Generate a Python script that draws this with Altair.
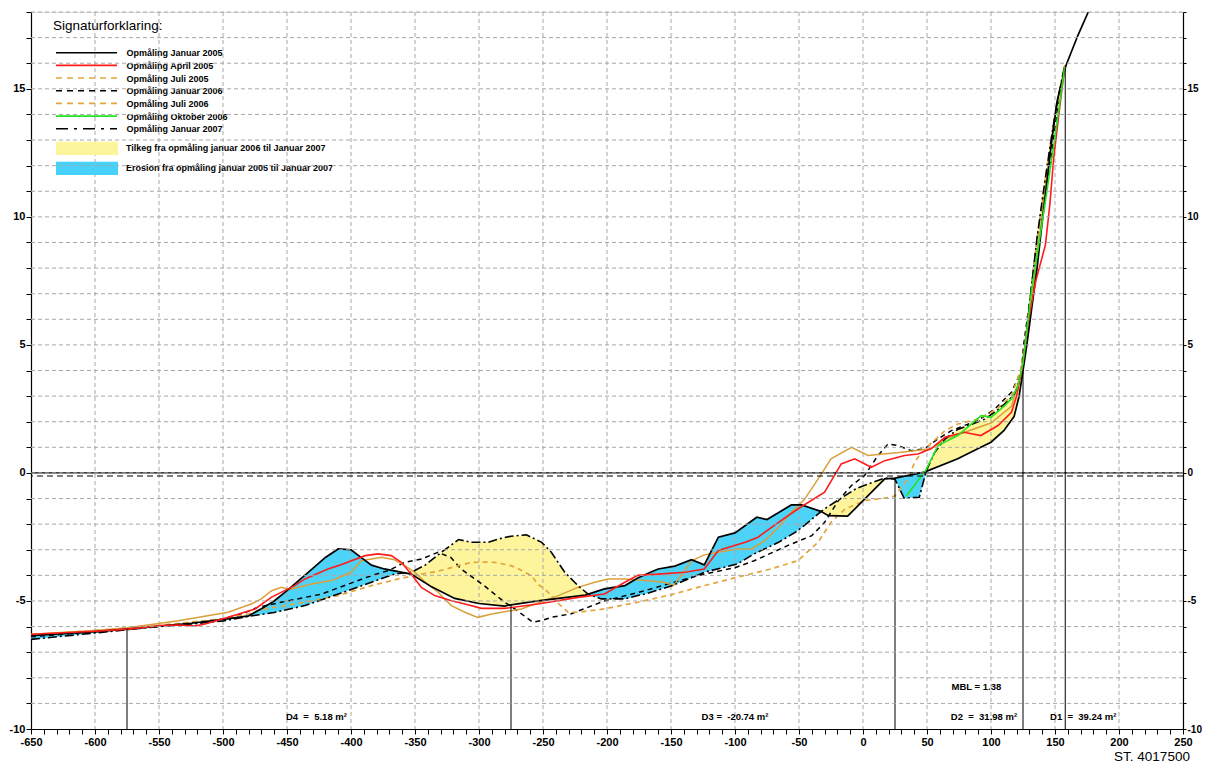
import numpy as np
import pandas as pd
import altair as alt

FONT = "Liberation Sans"

# ---------------- data ----------------
jan05_x = [-650, -600, -575, -550, -525, -500, -480, -470, -460, -450, -435, -420, -410, -400, -394, -384, -374, -353,
           -337, -319, -300, -280, -275, -254, -217, -202, -186, -176, -166, -160, -147, -134, -124, -113, -100, -83,
           -75, -56, -48, -33, -27, -12, 17, 25, 48, 74, 92, 100, 110, 118, 122, 125, 128, 132, 136, 140, 144, 148,
           152, 158.5, 168, 176]
jan05_y = [-6.35, -6.2, -6.1, -5.98, -5.87, -5.72, -5.58, -5.3, -5.0, -4.6, -3.95, -3.3, -2.97, -3.0, -3.23, -3.6,
           -3.75, -3.95, -4.45, -4.9, -5.1, -5.2, -5.15, -5.0, -4.77, -4.53, -4.4, -4.1, -3.88, -3.75, -3.64, -3.39,
           -3.59, -2.51, -2.34, -1.73, -1.82, -1.25, -1.25, -1.5, -1.67, -1.69, -0.23, -0.2, 0.03, 0.55, 1.0, 1.2,
           1.65, 2.2, 3.0, 4.0, 5.0, 6.5, 8.0, 9.8, 11.5, 13.2, 14.6, 15.9, 17.1, 18.0]

apr05_x = [-650, -600, -574, -548, -535, -522, -514, -496, -475, -462, -444, -436, -418, -410, -389, -379, -368.5,
           -360.7, -353, -345, -334.6, -321.6, -311, -298, -280, -254, -222.7, -202, -186, -176, -160, -139, -124,
           -113, -92, -82, -66, -51, -30, -17, -6.5, 6.5, 17, 32.5, 43, 53, 64, 79, 92, 105.5, 116, 120, 124, 129,
           135, 142.5, 146, 149, 153, 157.6]
apr05_y = [-6.3, -6.18, -6.1, -5.96, -5.94, -5.98, -5.9, -5.64, -5.31, -4.85, -4.4, -4.14, -3.75, -3.62, -3.23,
           -3.16, -3.23, -3.49, -3.95, -4.47, -4.79, -4.99, -5.12, -5.29, -5.29, -5.12, -4.86, -4.73, -4.27, -4.0,
           -3.95, -3.88, -3.75, -3.03, -2.71, -2.51, -1.93, -1.41, -0.75, 0.35, 0.55, 0.22, 0.48, 0.68, 0.74, 0.94,
           1.39, 1.59, 1.46, 1.85, 2.37, 3.0, 4.0, 5.9, 7.5, 8.9, 10.5, 12.3, 14.0, 15.85]

jul05_x = [-650, -600, -575, -553, -535, -496, -478, -470, -462, -454.5, -448, -431, -415, -400, -392, -376, -366,
           -358, -350, -342, -332, -321.6, -311, -301, -290, -267, -238, -222.7, -209.6, -199, -186, -170.5, -155,
           -148, -134, -124, -113, -98, -87, -77, -66, -56, -46, -35, -25, -9, 4, 30, 53, 66, 80, 100, 116, 124,
           128, 132, 136, 141, 146, 151, 157.6]
jul05_y = [-6.3, -6.15, -6.05, -5.9, -5.77, -5.44, -5.12, -4.92, -4.6, -4.47, -4.55, -4.34, -4.2, -3.88, -3.43,
           -3.29, -3.39, -3.62, -3.88, -4.27, -4.66, -5.18, -5.44, -5.64, -5.51, -5.31, -4.79, -4.47, -4.27, -4.14,
           -4.14, -4.2, -4.27, -4.4, -3.43, -3.2, -3.1, -2.97, -2.97, -2.65, -2.12, -1.54, -1.05, -0.23, 0.55, 1.0,
           0.68, 0.81, 0.94, 1.35, 1.6, 1.95, 2.6, 4.0, 5.3, 6.8, 8.5, 10.5, 12.5, 14.2, 15.9]

jan06_x = [-650, -600, -575, -550, -500, -485, -473, -449, -423, -402, -384, -370, -358, -345, -332, -322, -314,
           -296, -280, -272, -258, -250, -243.5, -228, -215, -202, -186, -170.5, -150, -124, -100, -85, -59, -40,
           -30, -19.5, -9, 1.3, 11.7, 19.5, 27.3, 37.7, 48, 58.6, 69, 79, 90, 103, 116, 123.7, 125.5, 131.5, 136.7,
           142, 147, 152, 157.6]
jan06_y = [-6.4, -6.2, -6.1, -5.98, -5.7, -5.5, -5.25, -4.99, -4.73, -4.34, -4.01, -3.8, -3.49, -3.36, -3.1, -3.3,
           -3.75, -4.4, -5.05, -5.31, -5.83, -5.75, -5.64, -5.5, -5.25, -5.0, -4.8, -4.6, -4.3, -3.95, -3.7, -3.43,
           -2.84, -2.45, -1.93, -1.1, -0.49, -0.1, 0.68, 1.13, 1.07, 0.87, 0.94, 1.33, 1.65, 1.85, 2.05, 2.5, 3.15,
           4.0, 5.0, 7.2, 9.4, 10.9, 12.3, 14.3, 15.9]

jul06_x = [-650, -600, -575, -550, -500, -480, -467, -436, -410, -384, -363, -345, -332, -316, -306, -296, -288,
           -275, -269, -259, -254, -248.7, -243.5, -238, -230.5, -222.7, -202, -176, -150, -124, -98, -72, -51, -35,
           -25, -14, 1.3, 22, 25, 35, 40.4, 43, 52, 64, 74, 90, 105, 116, 123, 127, 131, 136, 141, 146, 151, 157.6]
jul06_y = [-6.35, -6.15, -6.08, -5.95, -5.7, -5.5, -5.31, -5.05, -4.79, -4.4, -4.14, -3.95, -3.84, -3.62, -3.5,
           -3.48, -3.49, -3.62, -3.75, -4.01, -4.35, -4.53, -4.79, -5.1, -5.44, -5.44, -5.31, -5.05, -4.76, -4.4,
           -4.07, -3.75, -3.43, -2.7, -1.93, -1.41, -1.08, -0.95, -0.89, -0.23, 0.42, 0.61, 1.1, 1.65, 1.91, 2.1,
           2.5, 3.0, 4.0, 5.2, 7.0, 9.0, 11.0, 12.7, 14.3, 15.9]

okt06_x = [34, 49, 58.6, 74, 92.4, 100, 110.7, 116, 121, 125, 131.5, 142, 149.8, 157.6]
okt06_y = [-0.89, 0.1, 1.07, 1.46, 2.24, 2.17, 2.63, 2.9, 3.4, 4.3, 7.06, 10.44, 13.05, 15.85]

jan07_x = [-650, -600, -575, -550, -525, -500, -480, -460, -436, -410, -384, -366, -353, -342, -332, -316, -306,
           -293, -285, -275, -263, -251, -243.5, -233, -222.7, -214.8, -204.5, -186, -176, -170.5, -150, -124, -98,
           -85, -66, -53, -46, -35, -30, -5, 17, 25, 32, 44, 49.5, 56, 64, 74, 85, 95, 105, 113, 118, 121, 124, 127,
           131, 136, 141, 146, 151, 157.6]
jan07_y = [-6.5, -6.25, -6.12, -6.0, -5.9, -5.78, -5.6, -5.45, -5.18, -4.73, -4.27, -3.95, -3.88, -3.6, -3.2, -2.6,
           -2.71, -2.71, -2.58, -2.47, -2.42, -2.71, -3.1, -3.88, -4.4, -4.73, -4.92, -4.92, -4.79, -4.73, -4.42,
           -3.88, -3.55, -3.16, -2.71, -2.32, -2.06, -1.6, -1.4, -0.6, -0.2, -0.25, -0.98, -0.95, 0.09, 0.8, 1.33,
           1.7, 1.9, 2.1, 2.45, 2.8, 3.05, 3.4, 4.0, 5.2, 7.0, 9.2, 11.0, 12.7, 14.3, 15.9]

# section boundaries and their labels
d_x = [-575, -275, 25, 125, 158]
label_x = [-427, -100, 94.5, 172, 88.6]
label_y = [-9.53, -9.53, -9.53, -9.53, -8.36]
label_text = ["D4\u00a0 =\u00a0 5.18 m\u00b2", "D3 =\u00a0 -20.74 m\u00b2", "D2\u00a0 =\u00a0 31.98 m\u00b2",
              "D1\u00a0 =\u00a0 39.24 m\u00b2", "MBL = 1.38"]
ref_dash_levels = [4]        # dark dashed level
ref_solid_levels = [0]       # solid level
ref_dash2_levels = [-0.12]   # black dashed level

legend_names = ["Opmåling Januar 2005", "Opmåling April 2005", "Opmåling Juli 2005", "Opmåling Januar 2006",
                "Opmåling Juli 2006", "Opmåling Oktober 2006", "Opmåling Januar 2007"]
fill_names = ["Tilkeg fra opmåling januar 2006 til Januar 2007", "Erosion fra opmåling januar 2005 til Januar 2007"]
station = "ST. 4017500"

# ---------------- styles ----------------
BLACK = "#000000"
RED = "#ff1c1c"
ORANGE = "#d9a03a"
ORANGE_D = "#e3a53c"
GREEN = "#1fe61f"
YELLOW = "#fdf49c"
BLUE = "#4cd3f7"
GRID = "#a8a8a8"

styles = [  # color, width, dash
    (BLACK, 1.7, None),
    (RED, 1.6, None),
    (ORANGE, 1.5, None),
    (BLACK, 1.5, [5, 4]),
    (ORANGE_D, 1.7, [5, 4]),
    (GREEN, 1.6, None),
    (BLACK, 1.6, [9, 3, 2, 3]),
]
legend_styles = [
    (BLACK, 1.6, None),
    (RED, 1.8, None),
    (ORANGE_D, 1.6, [6, 5]),
    (BLACK, 1.6, [6, 5]),
    (ORANGE_D, 1.6, [6, 5]),
    (GREEN, 1.8, None),
    (BLACK, 1.6, [12, 6, 3, 6]),
]

W, H = 1152, 717
PAD = {"left": 23, "top": 4, "right": 19, "bottom": 35}
xs = alt.Scale(domain=[-650, 250], nice=False, zero=False)
ys = alt.Scale(domain=[-10, 18], nice=False, zero=False)

x_axis = alt.Axis(values=list(range(-650, 251, 10)),
                  labelExpr="datum.value % 50 == 0 ? '' + datum.value : ''",
                  tickSize=5, tickColor=BLACK, domainColor=BLACK, domainWidth=1.2, tickWidth=1,
                  labelFont=FONT, labelFontSize=11, labelFontWeight="bold", labelColor=BLACK,
                  labelPadding=2, labelOverlap=False, labelFlush=False, grid=False, title=None)


def y_axis(orient):
    right = orient == "right"
    return alt.Axis(values=list(range(-10, 19)), orient=orient,
                    labelExpr="datum.value % 5 == 0 ? '' + datum.value : ''",
                    tickSize=3 if right else 5, tickColor=BLACK, domainColor=BLACK,
                    domainWidth=1.2, tickWidth=1,
                    labelFont=FONT, labelFontSize=10 if right else 11, labelFontWeight="bold",
                    labelColor=BLACK, labelPadding=1, labelOverlap=False, labelFlush=False,
                    grid=False, title=None)


def X(f):
    return alt.X(f, type="quantitative", scale=xs, axis=x_axis)


def YL(f):
    return alt.Y(f, type="quantitative", scale=ys, axis=y_axis("left"))


# ---------------- fills between Jan 2005 and Jan 2007 ----------------
a_x = np.array(jan05_x, float); a_y = np.array(jan05_y, float)
b_x = np.array(jan07_x, float); b_y = np.array(jan07_y, float)
lo = max(a_x.min(), b_x.min()); hi = min(a_x.max(), b_x.max())
g = np.union1d(a_x, b_x); g = g[(g >= lo) & (g <= hi)]
A = np.interp(g, a_x, a_y); B = np.interp(g, b_x, b_y)
FX, FA, FB = [g[0]], [A[0]], [B[0]]
for i in range(1, len(g)):
    d0 = A[i - 1] - B[i - 1]; d1 = A[i] - B[i]
    if d0 * d1 < 0:
        t = d0 / (d0 - d1)
        xc = g[i - 1] + t * (g[i] - g[i - 1]); yc = A[i - 1] + t * (A[i] - A[i - 1])
        FX.append(xc); FA.append(yc); FB.append(yc)
    FX.append(g[i]); FA.append(A[i]); FB.append(B[i])
fill_df = pd.DataFrame({"x": FX, "a": FA, "b": FB})
fill_df["hi"] = np.maximum(fill_df["a"], fill_df["b"])
fill_df["lo"] = np.minimum(fill_df["a"], fill_df["b"])

yellow = alt.Chart(fill_df).mark_area(color=YELLOW, opacity=1, orient="vertical", clip=True).encode(
    x=X("x"), y=YL("a"), y2=alt.Y2("hi"))
blue = alt.Chart(fill_df).mark_area(color=BLUE, opacity=1, orient="vertical", clip=True).encode(
    x=X("x"), y=YL("lo"), y2=alt.Y2("a"))

# ---------------- grid ----------------
vgrid = alt.Chart(pd.DataFrame({"x": list(range(-600, 250, 50))})).mark_rule(
    color=GRID, strokeWidth=1, strokeDash=[4, 3]).encode(x=X("x"))
hgrid_df = pd.DataFrame({"y": list(range(-9, 19))})
hgrid = alt.Chart(hgrid_df).mark_rule(color=GRID, strokeWidth=1, strokeDash=[4, 3]).encode(
    y=alt.Y("y:Q", scale=ys, axis=y_axis("right")))

lvl4 = alt.Chart(pd.DataFrame({"y": ref_dash_levels})).mark_rule(
    color="#444444", strokeWidth=1.2, strokeDash=[4, 3]).encode(y=YL("y"))
lvl0 = alt.Chart(pd.DataFrame({"y": ref_solid_levels})).mark_rule(
    color=BLACK, strokeWidth=1.3).encode(y=YL("y"))
lvlm = alt.Chart(pd.DataFrame({"y": ref_dash2_levels})).mark_rule(
    color=BLACK, strokeWidth=1.2, strokeDash=[6, 4]).encode(y=YL("y"))

# ---------------- profile lines ----------------
series = [(jan05_x, jan05_y), (apr05_x, apr05_y), (jul05_x, jul05_y), (jan06_x, jan06_y),
          (jul06_x, jul06_y), (okt06_x, okt06_y), (jan07_x, jan07_y)]
draw_order = [3, 4, 2, 6, 0, 1, 5]
line_layers = []
for k in draw_order:
    sx, sy = series[k]
    col, wd, dash = styles[k]
    kw = dict(color=col, strokeWidth=wd, clip=True)
    if dash:
        kw["strokeDash"] = dash
    line_layers.append(alt.Chart(pd.DataFrame({"x": sx, "y": sy})).mark_line(**kw).encode(
        x=X("x"), y=YL("y")))

# ---------------- section boundary rules and labels ----------------
d_top = np.interp(d_x, a_x, a_y)
drules = alt.Chart(pd.DataFrame({"x": d_x, "y0": [-10] * len(d_x), "y1": d_top})).mark_rule(
    color=BLACK, strokeWidth=1).encode(x=X("x"), y=YL("y0"), y2=alt.Y2("y1"))
dlabels = alt.Chart(pd.DataFrame({"x": label_x, "y": label_y, "t": label_text})).mark_text(
    font=FONT, fontSize=9.5, fontWeight="bold", color=BLACK, align="center", baseline="middle").encode(
    x=X("x"), y=YL("y"), text="t:N")

# ---------------- hand-made legend ----------------
one = pd.DataFrame({"k": [0]})
leg = []
leg.append(alt.Chart(one).mark_text(text="Signaturforklaring:", font=FONT, fontSize=13.5, color=BLACK,
                                    align="left", baseline="middle").encode(x=alt.value(22), y=alt.value(14)))
row0, step = 40.7, 12.67
for i, name in enumerate(legend_names):
    yy = row0 + i * step
    col, wd, dash = legend_styles[i]
    kw = dict(color=col, strokeWidth=wd)
    if dash:
        kw["strokeDash"] = dash
    leg.append(alt.Chart(one).mark_rule(**kw).encode(x=alt.value(25), x2=alt.value(86), y=alt.value(yy)))
    leg.append(alt.Chart(one).mark_text(text=name, font=FONT, fontSize=9, fontWeight="bold", color=BLACK,
                                        align="left", baseline="middle").encode(
        x=alt.value(95.5), y=alt.value(yy + 0.5)))
for j, (name, col) in enumerate(zip(fill_names, ["#fdf59c", "#46d2fb"])):
    top = 129.7 + j * 20
    leg.append(alt.Chart(one).mark_rect(color=col).encode(
        x=alt.value(25), x2=alt.value(87), y=alt.value(top), y2=alt.value(top + 13.3)))
    leg.append(alt.Chart(one).mark_text(text=name, font=FONT, fontSize=9, fontWeight="bold", color=BLACK,
                                        align="left", baseline="middle").encode(
        x=alt.value(95), y=alt.value(top + 6.5)))

st = alt.Chart(one).mark_text(text=station, font=FONT, fontSize=13.5, color=BLACK, align="center",
                              baseline="bottom").encode(x=alt.value(1121), y=alt.value(751.5))

left = alt.layer(yellow, blue, vgrid, lvl4, *line_layers, lvl0, lvlm, drules, dlabels, *leg, st)
chart = alt.layer(left, hgrid).resolve_scale(y="independent").properties(
    width=W, height=H,
    padding=PAD,
    autosize=alt.AutoSizeParams(type="none"),
).configure_view(stroke=None).configure(background="white")

chart.save("out.html", embed_options={"renderer": "svg", "actions": False})
